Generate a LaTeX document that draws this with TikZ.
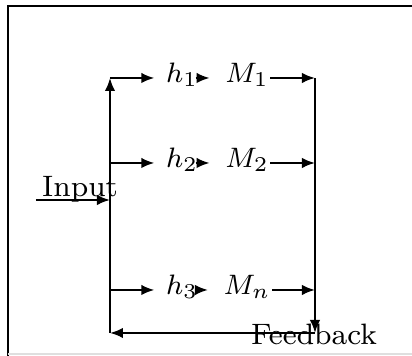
\documentclass[tikz,border=0pt]{standalone}
\usepackage{amsmath}
\usepackage{tikz}
\usetikzlibrary{arrows, arrows.meta}
\tikzset{lbl/.style = {font = \fontsize{8.4}{10}\selectfont, inner sep = 0pt, anchor = base}}
\tikzset{sig/.style = {-{Latex[length = 1.3mm, width = 1.05mm]}, line width = 0.6pt}}
\tikzset{frame/.style = {line width = 0.6pt}}

\begin{document}
\begin{tikzpicture}[x = 1mm, y = 1mm]
				\useasboundingbox (0, 0) rectangle (41.2, 35.6);
				\draw[frame] (0.8, 0) -- (0.8, 35.0) -- (41.2, 35.0);
				\draw[gray!25, line width = 0.4pt] (0.8, 0.2) -- (41.2, 0.2);

				\coordinate (l1) at (11, 27.8);
				\coordinate (l2) at (11, 19.3);
				\coordinate (l3) at (11, 6.6);
				\coordinate (l4) at (11, 2.3);
				\coordinate (r1) at (31.5, 27.8);
				\coordinate (r2) at (31.5, 19.3);
				\coordinate (r3) at (31.5, 6.6);
				\coordinate (r4) at (31.5, 2.3);
				\coordinate (in) at (3.6, 15.6);

				\node[lbl] (h1) at (18.2, 27.3) {$h_1$};
				\node[lbl] (h2) at (18.2, 18.8) {$h_2$};
				\node[lbl] (h3) at (18.2, 6.1) {$h_3$};
				\node[lbl] (m1) at (24.7, 27.3) {$M_1$};
				\node[lbl] (m2) at (24.7, 18.8) {$M_2$};
				\node[lbl] (m3) at (24.7, 6.1) {$M_n$};
				\node[lbl] (input) at (8.0, 15.9) {Input};
				\node[lbl] (feedback) at (31.4, 1.1) {Feedback};

				\draw[sig] (l4) -- (l1);
				\draw[sig] (r1) -- (r4);
				\draw[sig] (r4) -- (l4);
				\draw[sig] (in) -- (in -| l1);

				\foreach \i in {1, 2, 3} {
					\draw[sig, shorten > = 1.1mm] (l\i) -- (h\i.west |- l\i);
					\draw[sig, shorten < = 0.3mm, shorten > = 1.5mm] (h\i.east |- l\i) -- (m\i.west |- l\i);
					\draw[sig, shorten < = 0.1mm] (m\i.east |- l\i) -- (r\i);
				}
			\end{tikzpicture}
\end{document}
